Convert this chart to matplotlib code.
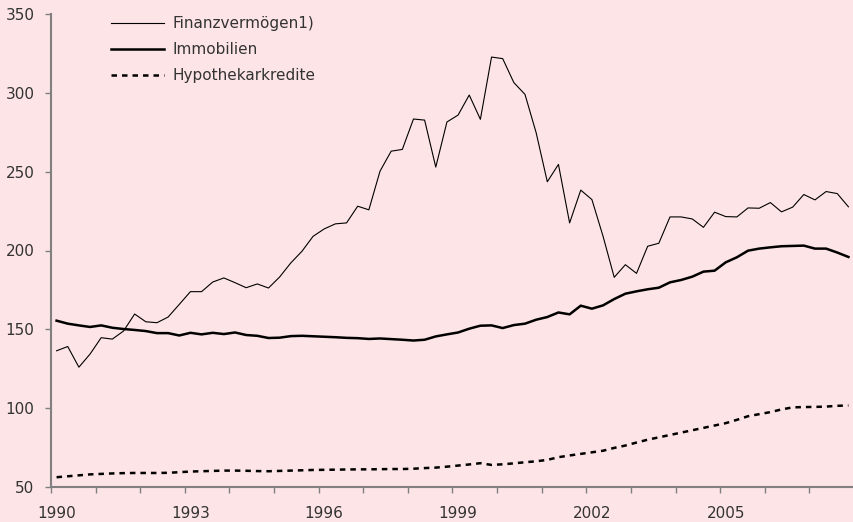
import numpy as np
import matplotlib
matplotlib.use("Agg")
import matplotlib.pyplot as plt

# quarterly data 1990Q1 - 2007Q4
quarters = [f"{y}Q{q}" for y in range(1990, 2008) for q in range(1, 5)]

finanz = [136.4, 139.1, 126.0, 134.3, 144.7, 143.8, 148.9, 159.7, 154.8, 154.2,
          157.8, 165.8, 173.9, 173.9, 180.0, 182.6, 179.6, 176.4, 178.8, 176.2,
          183.2, 192.1, 199.5, 209.0, 213.7, 216.9, 217.5, 228.1, 225.8, 250.3,
          263.0, 264.1, 283.4, 282.7, 252.9, 281.5, 285.9, 298.6, 283.2, 322.7,
          321.7, 306.5, 299.0, 274.7, 243.6, 254.6, 217.5, 238.3, 232.3, 209.0,
          183.0, 191.0, 185.5, 202.7, 204.6, 221.3, 221.3, 220.0, 214.7, 224.3,
          221.5, 221.3, 227.0, 226.8, 230.4, 224.5, 227.5, 235.5, 232.1, 237.4,
          236.1, 227.7]

immobilien = [155.5, 153.6, 152.5, 151.5, 152.5, 151.0, 150.2, 149.6, 148.9, 147.6,
              147.6, 146.1, 147.8, 146.8, 147.8, 147.0, 148.0, 146.4, 145.9, 144.5,
              144.7, 145.7, 145.9, 145.6, 145.3, 145.0, 144.6, 144.4, 143.9, 144.2,
              143.8, 143.4, 142.9, 143.4, 145.5, 146.8, 148.0, 150.4, 152.3, 152.5,
              150.8, 152.7, 153.6, 156.1, 157.8, 160.7, 159.5, 165.0, 163.1, 165.2,
              169.2, 172.6, 174.1, 175.4, 176.4, 179.8, 181.3, 183.4, 186.6, 187.2,
              192.5, 195.7, 199.9, 201.2, 202.0, 202.7, 202.9, 203.1, 201.2, 201.2,
              198.7, 195.9]

hypothek = [56.2, 56.8, 57.4, 58.0, 58.3, 58.6, 58.8, 58.9, 58.9, 58.9,
            59.0, 59.4, 59.8, 60.0, 60.2, 60.4, 60.4, 60.3, 60.1, 60.0,
            60.2, 60.4, 60.6, 60.8, 60.9, 61.0, 61.1, 61.2, 61.2, 61.3,
            61.4, 61.4, 61.6, 62.0, 62.3, 62.9, 63.6, 64.3, 65.1, 64.0,
            64.4, 65.0, 65.7, 66.3, 67.2, 68.9, 70.0, 71.0, 72.0, 73.0,
            74.8, 76.3, 78.2, 80.0, 81.5, 83.0, 84.5, 86.0, 87.5, 89.0,
            90.5, 92.6, 94.9, 96.2, 97.5, 99.2, 100.5, 100.7, 100.8, 101.0,
            101.5, 101.7]

year_labels = ["1990", "1993", "1996", "1999", "2002", "2005"]

bg = "#fde4e6"
grey = "#808080"
txt = "#333333"

plt.rcParams["font.family"] = ["DejaVu Sans"]
plt.rcParams["font.size"] = 11

fig = plt.figure(figsize=(8.54, 5.22), dpi=100, facecolor=bg)
ax = fig.add_axes([51 / 854, 1 - 487 / 522, 1 - 51 / 854, (487 - 14) / 522])
ax.set_facecolor(bg)

x = np.arange(len(quarters))
ax.plot(x, finanz, color="black", lw=0.8, label="Finanzvermögen1)")
ax.plot(x, immobilien, color="black", lw=1.8, label="Immobilien")
ax.plot(x, hypothek, color="black", lw=1.8, linestyle=(0, (2.2, 2.0)),
        label="Hypothekarkredite")

ax.set_xlim(-0.5, len(quarters) - 0.5)
ax.set_ylim(50, 350)
ax.set_yticks(range(50, 351, 50))

# labels centered on first quarter of every third year, tick marks between years
label_pos = [quarters.index(y + "Q1") for y in year_labels]
ax.set_xticks(label_pos)
ax.set_xticklabels(year_labels)
ax.set_xticks(np.arange(-0.5, len(quarters) - 1, 4), minor=True)
ax.tick_params(axis="x", which="major", length=0, pad=14, colors=txt)
ax.tick_params(axis="x", which="minor", length=4, width=1.0, color=grey,
               direction="out")
ax.tick_params(axis="y", length=4, width=1.0, color=grey, pad=8,
               labelcolor=txt, direction="out")

for s in ["top", "right"]:
    ax.spines[s].set_visible(False)
for s in ["left", "bottom"]:
    ax.spines[s].set_color(grey)
    ax.spines[s].set_linewidth(1.5)

leg = ax.legend(loc="upper left",
                bbox_to_anchor=((111 - 51) / 803, 1.0 - 2 / 473),
                frameon=False, borderpad=0, borderaxespad=0,
                handlelength=3.5, handletextpad=0.5, labelspacing=0.72)
for t in leg.get_texts():
    t.set_color(txt)

fig.savefig("out.png", dpi=100, facecolor=bg)
